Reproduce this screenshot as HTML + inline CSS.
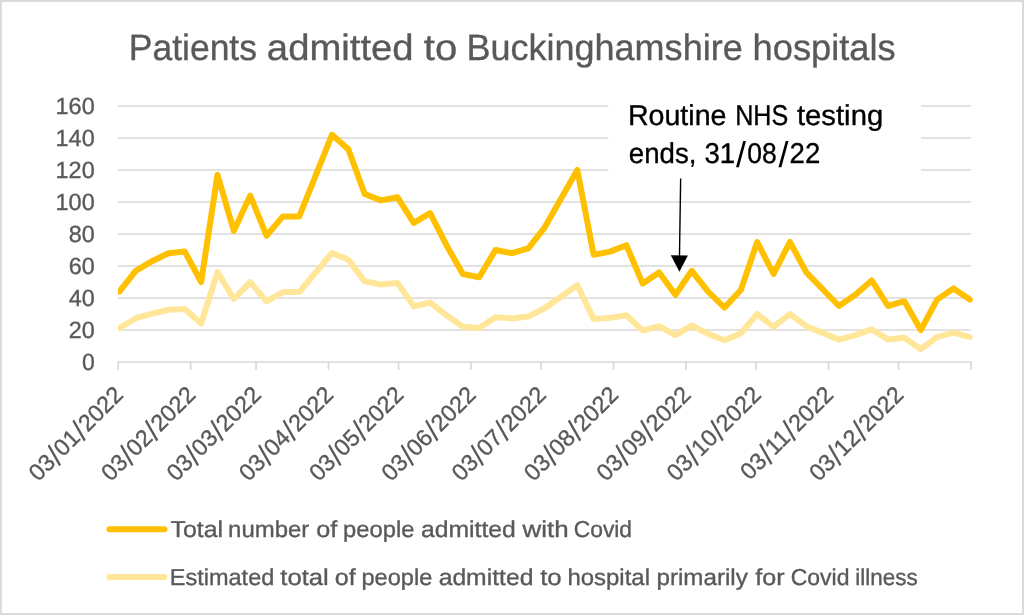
<!DOCTYPE html>
<html lang="en"><head><meta charset="utf-8"><title>Patients admitted to Buckinghamshire hospitals</title>
<style>html,body{margin:0;padding:0;background:#fff;overflow:hidden}svg{display:block}text{font-family:"Liberation Sans",sans-serif;text-rendering:geometricPrecision;stroke-width:.35px;stroke-linejoin:round}</style></head><body>
<svg width="1024" height="615" viewBox="0 0 1024 615">
<rect x="0" y="0" width="1024" height="615" fill="#fff"/>
<rect x="0.9" y="0.9" width="1022.1" height="613.1" fill="none" stroke="#d9d9d9" stroke-width="1.9"/>
<g stroke="#d9d9d9" stroke-width="1.7" fill="none">
<line x1="118" y1="106" x2="970.9" y2="106"/>
<line x1="118" y1="138" x2="970.9" y2="138"/>
<line x1="118" y1="170" x2="970.9" y2="170"/>
<line x1="118" y1="202" x2="970.9" y2="202"/>
<line x1="118" y1="234" x2="970.9" y2="234"/>
<line x1="118" y1="266" x2="970.9" y2="266"/>
<line x1="118" y1="298" x2="970.9" y2="298"/>
<line x1="118" y1="330" x2="970.9" y2="330"/>
<line x1="117.35" y1="362" x2="971.85" y2="362"/>
<line x1="118.20" y1="362" x2="118.20" y2="369.8"/>
<line x1="190.63" y1="362" x2="190.63" y2="369.8"/>
<line x1="256.05" y1="362" x2="256.05" y2="369.8"/>
<line x1="328.48" y1="362" x2="328.48" y2="369.8"/>
<line x1="398.57" y1="362" x2="398.57" y2="369.8"/>
<line x1="471.00" y1="362" x2="471.00" y2="369.8"/>
<line x1="541.09" y1="362" x2="541.09" y2="369.8"/>
<line x1="613.52" y1="362" x2="613.52" y2="369.8"/>
<line x1="685.95" y1="362" x2="685.95" y2="369.8"/>
<line x1="756.04" y1="362" x2="756.04" y2="369.8"/>
<line x1="828.47" y1="362" x2="828.47" y2="369.8"/>
<line x1="898.56" y1="362" x2="898.56" y2="369.8"/>
<line x1="970.99" y1="362" x2="970.99" y2="369.8"/>
</g>
<text y="60" font-size="36.6" fill="#595959" stroke="#595959"><tspan x="128.79" textLength="128.19" lengthAdjust="spacingAndGlyphs">Patients</tspan> <tspan x="266.87" textLength="146.79" lengthAdjust="spacingAndGlyphs">admitted</tspan> <tspan x="423.89" textLength="33.39" lengthAdjust="spacingAndGlyphs">to</tspan> <tspan x="466.45" textLength="276.25" lengthAdjust="spacingAndGlyphs">Buckinghamshire</tspan> <tspan x="752.59" textLength="143.02" lengthAdjust="spacingAndGlyphs">hospitals</tspan></text>
<text x="94.7" y="114.0" font-size="23.4" fill="#595959" stroke="#595959" text-anchor="end" textLength="39.2" lengthAdjust="spacingAndGlyphs">160</text>
<text x="94.7" y="146.0" font-size="23.4" fill="#595959" stroke="#595959" text-anchor="end" textLength="39.2" lengthAdjust="spacingAndGlyphs">140</text>
<text x="94.7" y="178.0" font-size="23.4" fill="#595959" stroke="#595959" text-anchor="end" textLength="39.2" lengthAdjust="spacingAndGlyphs">120</text>
<text x="94.7" y="210.0" font-size="23.4" fill="#595959" stroke="#595959" text-anchor="end" textLength="39.2" lengthAdjust="spacingAndGlyphs">100</text>
<text x="94.7" y="242.0" font-size="23.4" fill="#595959" stroke="#595959" text-anchor="end" textLength="26" lengthAdjust="spacingAndGlyphs">80</text>
<text x="94.7" y="274.0" font-size="23.4" fill="#595959" stroke="#595959" text-anchor="end" textLength="26" lengthAdjust="spacingAndGlyphs">60</text>
<text x="94.7" y="306.0" font-size="23.4" fill="#595959" stroke="#595959" text-anchor="end" textLength="26" lengthAdjust="spacingAndGlyphs">40</text>
<text x="94.7" y="338.0" font-size="23.4" fill="#595959" stroke="#595959" text-anchor="end" textLength="26" lengthAdjust="spacingAndGlyphs">20</text>
<text x="94.7" y="370.0" font-size="23.4" fill="#595959" stroke="#595959" text-anchor="end" textLength="12.8" lengthAdjust="spacingAndGlyphs">0</text>
<text transform="translate(124.50 396) rotate(-45)" font-size="23.4" fill="#595959" stroke="#595959" text-anchor="end">03<tspan dx="0.2" dy="3.2" font-size="30.6" stroke="none">/</tspan><tspan dx="0.2" dy="-3.2">01</tspan><tspan dx="0.2" dy="3.2" font-size="30.6" stroke="none">/</tspan><tspan dx="0.2" dy="-3.2">2022</tspan></text>
<text transform="translate(196.93 396) rotate(-45)" font-size="23.4" fill="#595959" stroke="#595959" text-anchor="end">03<tspan dx="0.2" dy="3.2" font-size="30.6" stroke="none">/</tspan><tspan dx="0.2" dy="-3.2">02</tspan><tspan dx="0.2" dy="3.2" font-size="30.6" stroke="none">/</tspan><tspan dx="0.2" dy="-3.2">2022</tspan></text>
<text transform="translate(262.35 396) rotate(-45)" font-size="23.4" fill="#595959" stroke="#595959" text-anchor="end">03<tspan dx="0.2" dy="3.2" font-size="30.6" stroke="none">/</tspan><tspan dx="0.2" dy="-3.2">03</tspan><tspan dx="0.2" dy="3.2" font-size="30.6" stroke="none">/</tspan><tspan dx="0.2" dy="-3.2">2022</tspan></text>
<text transform="translate(334.78 396) rotate(-45)" font-size="23.4" fill="#595959" stroke="#595959" text-anchor="end">03<tspan dx="0.2" dy="3.2" font-size="30.6" stroke="none">/</tspan><tspan dx="0.2" dy="-3.2">04</tspan><tspan dx="0.2" dy="3.2" font-size="30.6" stroke="none">/</tspan><tspan dx="0.2" dy="-3.2">2022</tspan></text>
<text transform="translate(404.87 396) rotate(-45)" font-size="23.4" fill="#595959" stroke="#595959" text-anchor="end">03<tspan dx="0.2" dy="3.2" font-size="30.6" stroke="none">/</tspan><tspan dx="0.2" dy="-3.2">05</tspan><tspan dx="0.2" dy="3.2" font-size="30.6" stroke="none">/</tspan><tspan dx="0.2" dy="-3.2">2022</tspan></text>
<text transform="translate(477.30 396) rotate(-45)" font-size="23.4" fill="#595959" stroke="#595959" text-anchor="end">03<tspan dx="0.2" dy="3.2" font-size="30.6" stroke="none">/</tspan><tspan dx="0.2" dy="-3.2">06</tspan><tspan dx="0.2" dy="3.2" font-size="30.6" stroke="none">/</tspan><tspan dx="0.2" dy="-3.2">2022</tspan></text>
<text transform="translate(547.39 396) rotate(-45)" font-size="23.4" fill="#595959" stroke="#595959" text-anchor="end">03<tspan dx="0.2" dy="3.2" font-size="30.6" stroke="none">/</tspan><tspan dx="0.2" dy="-3.2">07</tspan><tspan dx="0.2" dy="3.2" font-size="30.6" stroke="none">/</tspan><tspan dx="0.2" dy="-3.2">2022</tspan></text>
<text transform="translate(619.82 396) rotate(-45)" font-size="23.4" fill="#595959" stroke="#595959" text-anchor="end">03<tspan dx="0.2" dy="3.2" font-size="30.6" stroke="none">/</tspan><tspan dx="0.2" dy="-3.2">08</tspan><tspan dx="0.2" dy="3.2" font-size="30.6" stroke="none">/</tspan><tspan dx="0.2" dy="-3.2">2022</tspan></text>
<text transform="translate(692.25 396) rotate(-45)" font-size="23.4" fill="#595959" stroke="#595959" text-anchor="end">03<tspan dx="0.2" dy="3.2" font-size="30.6" stroke="none">/</tspan><tspan dx="0.2" dy="-3.2">09</tspan><tspan dx="0.2" dy="3.2" font-size="30.6" stroke="none">/</tspan><tspan dx="0.2" dy="-3.2">2022</tspan></text>
<text transform="translate(762.34 396) rotate(-45)" font-size="23.4" fill="#595959" stroke="#595959" text-anchor="end">03<tspan dx="0.2" dy="3.2" font-size="30.6" stroke="none">/</tspan><tspan dx="0.2" dy="-3.2">10</tspan><tspan dx="0.2" dy="3.2" font-size="30.6" stroke="none">/</tspan><tspan dx="0.2" dy="-3.2">2022</tspan></text>
<text transform="translate(834.77 396) rotate(-45)" font-size="23.4" fill="#595959" stroke="#595959" text-anchor="end">03<tspan dx="0.2" dy="3.2" font-size="30.6" stroke="none">/</tspan><tspan dx="0.2" dy="-3.2">11</tspan><tspan dx="0.2" dy="3.2" font-size="30.6" stroke="none">/</tspan><tspan dx="0.2" dy="-3.2">2022</tspan></text>
<text transform="translate(904.86 396) rotate(-45)" font-size="23.4" fill="#595959" stroke="#595959" text-anchor="end">03<tspan dx="0.2" dy="3.2" font-size="30.6" stroke="none">/</tspan><tspan dx="0.2" dy="-3.2">12</tspan><tspan dx="0.2" dy="3.2" font-size="30.6" stroke="none">/</tspan><tspan dx="0.2" dy="-3.2">2022</tspan></text>
<clipPath id="pc"><rect x="117.9" y="90" width="870" height="290"/></clipPath>
<g clip-path="url(#pc)" fill="none" stroke-width="6" stroke-linejoin="round" stroke-linecap="round">
<path stroke="#ffc000" d="M119.37 291.60 L135.72 270.80 L152.08 261.20 L168.43 253.20 L184.79 251.60 L201.14 282.00 L217.50 174.80 L233.85 230.80 L250.21 195.60 L266.56 235.60 L282.92 216.40 L299.27 216.40 L315.63 175.60 L331.98 134.80 L348.34 149.20 L364.69 194.00 L381.04 200.40 L397.40 197.20 L413.75 222.80 L430.11 213.20 L446.46 245.20 L462.82 274.00 L479.17 277.20 L495.53 250.00 L511.88 253.20 L528.24 248.40 L544.59 227.60 L560.95 198.80 L577.30 170.00 L593.66 254.80 L610.01 251.60 L626.37 245.20 L642.72 283.60 L659.08 272.40 L675.43 294.80 L691.79 270.80 L708.14 291.60 L724.50 307.60 L740.85 290.00 L757.21 242.00 L773.56 274.00 L789.91 242.00 L806.27 272.40 L822.62 289.20 L838.98 306.00 L855.33 294.80 L871.69 280.40 L888.04 306.00 L904.40 301.20 L920.75 330.00 L937.11 299.60 L953.46 288.40 L969.82 299.60"/>
<path stroke="#ffe699" d="M119.37 328.21 L135.72 318.22 L152.08 313.62 L168.43 309.78 L184.79 309.01 L201.14 323.60 L217.50 272.14 L233.85 299.02 L250.21 282.13 L266.56 301.33 L282.92 292.11 L299.27 292.11 L315.63 272.53 L331.98 252.94 L348.34 259.86 L364.69 281.36 L381.04 284.43 L397.40 282.90 L413.75 306.32 L430.11 302.48 L446.46 315.28 L462.82 326.80 L479.17 328.08 L495.53 317.20 L511.88 318.48 L528.24 316.56 L544.59 308.24 L560.95 296.72 L577.30 285.20 L593.66 319.12 L610.01 317.84 L626.37 315.28 L642.72 330.64 L659.08 326.16 L675.43 335.12 L691.79 325.52 L708.14 333.84 L724.50 340.24 L740.85 333.20 L757.21 314.00 L773.56 326.80 L789.91 314.00 L806.27 326.16 L822.62 332.88 L838.98 339.60 L855.33 335.12 L871.69 329.36 L888.04 339.60 L904.40 337.68 L920.75 349.20 L937.11 337.04 L953.46 332.56 L969.82 337.04"/>
</g>
<rect x="608.5" y="92" width="312.5" height="94" fill="#fff"/>
<text y="125" font-size="28.6" fill="#000" stroke="#000"><tspan x="627.90" textLength="98.57" lengthAdjust="spacingAndGlyphs">Routine</tspan> <tspan x="735.14" textLength="53.12" lengthAdjust="spacingAndGlyphs">NHS</tspan> <tspan x="796.96" textLength="86.23" lengthAdjust="spacingAndGlyphs">testing</tspan></text>
<text y="163" font-size="28.6" fill="#000" stroke="#000"><tspan x="628.83" textLength="67.66" lengthAdjust="spacingAndGlyphs">ends,</tspan> <tspan x="704.45" textLength="30.81" lengthAdjust="spacingAndGlyphs">31</tspan><tspan x="736.00" y="167" font-size="35.89" stroke="none" textLength="10.00" lengthAdjust="spacingAndGlyphs">/</tspan><tspan x="747.36" y="163" textLength="29.49" lengthAdjust="spacingAndGlyphs">08</tspan><tspan x="778.60" y="167" font-size="35.89" stroke="none" textLength="10.00" lengthAdjust="spacingAndGlyphs">/</tspan><tspan x="789.61" y="163" textLength="30.67" lengthAdjust="spacingAndGlyphs">22</tspan></text>
<line x1="680.65" y1="178.5" x2="679.45" y2="258" stroke="#000" stroke-width="1.4"/>
<polygon points="679.4,271.7 670.8,255.2 687.9,255.5" fill="#000"/>
<g fill="none" stroke-width="6" stroke-linecap="round"><line x1="109.4" y1="529.3" x2="164.4" y2="529.3" stroke="#ffc000"/><line x1="109.4" y1="577.0" x2="164.4" y2="577.0" stroke="#ffe699"/></g>
<text y="537" font-size="23" fill="#595959" stroke="#595959"><tspan x="170.57" textLength="52.51" lengthAdjust="spacingAndGlyphs">Total</tspan> <tspan x="228.11" textLength="81.09" lengthAdjust="spacingAndGlyphs">number</tspan> <tspan x="316.24" textLength="21.02" lengthAdjust="spacingAndGlyphs">of</tspan> <tspan x="343.07" textLength="71.39" lengthAdjust="spacingAndGlyphs">people</tspan> <tspan x="420.95" textLength="94.95" lengthAdjust="spacingAndGlyphs">admitted</tspan> <tspan x="522.54" textLength="46.15" lengthAdjust="spacingAndGlyphs">with</tspan> <tspan x="573.74" textLength="58.33" lengthAdjust="spacingAndGlyphs">Covid</tspan></text>
<text y="585" font-size="23" fill="#595959" stroke="#595959"><tspan x="169.77" textLength="104.54" lengthAdjust="spacingAndGlyphs">Estimated</tspan> <tspan x="280.31" textLength="48.40" lengthAdjust="spacingAndGlyphs">total</tspan> <tspan x="334.75" textLength="20.92" lengthAdjust="spacingAndGlyphs">of</tspan> <tspan x="361.48" textLength="70.87" lengthAdjust="spacingAndGlyphs">people</tspan> <tspan x="438.65" textLength="94.74" lengthAdjust="spacingAndGlyphs">admitted</tspan> <tspan x="540.21" textLength="21.47" lengthAdjust="spacingAndGlyphs">to</tspan> <tspan x="567.44" textLength="82.56" lengthAdjust="spacingAndGlyphs">hospital</tspan> <tspan x="656.44" textLength="91.41" lengthAdjust="spacingAndGlyphs">primarily</tspan> <tspan x="755.34" textLength="29.27" lengthAdjust="spacingAndGlyphs">for</tspan> <tspan x="790.63" textLength="58.85" lengthAdjust="spacingAndGlyphs">Covid</tspan> <tspan x="855.30" textLength="62.41" lengthAdjust="spacingAndGlyphs">illness</tspan></text>
</svg></body></html>
